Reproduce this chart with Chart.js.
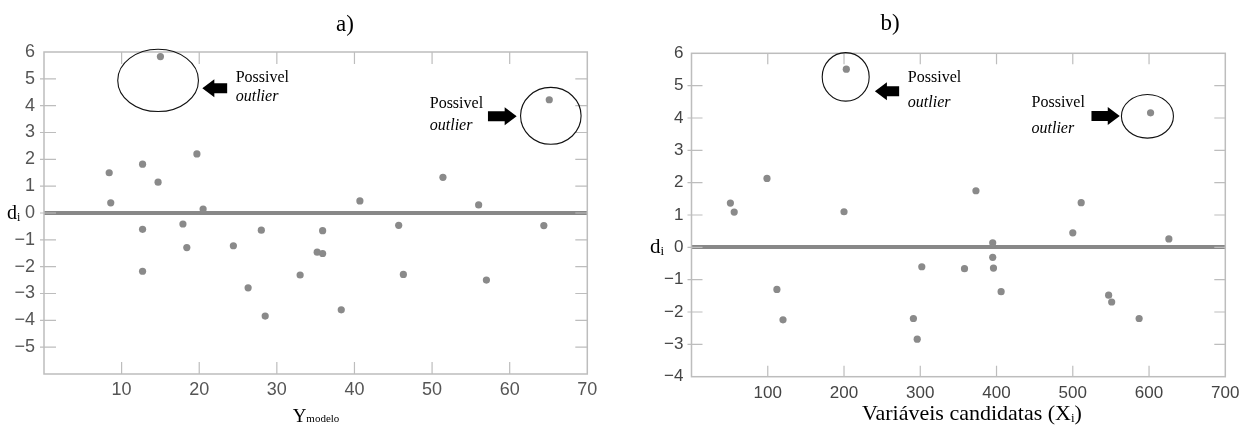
<!DOCTYPE html>
<html>
<head>
<meta charset="utf-8">
<script src="https://cdn.jsdelivr.net/npm/chart.js@4/dist/chart.umd.min.js"></script>
<style>
  body { margin: 0; background: #fff; width: 1248px; height: 426px; overflow: hidden; position: relative; }
  canvas { position: absolute; top: 0; }
</style>
</head>
<body>
<canvas id="graficoA" width="624" height="426" style="left:0"></canvas>
<canvas id="graficoB" width="624" height="426" style="left:624px"></canvas>
<script>
// a) residuos contra o Y do modelo
const yModeloA = [15.0, 8.4, 12.7, 14.7, 19.7, 8.6, 20.5, 40.7, 65.1, 51.4, 56.0,
  12.7, 17.9, 18.4, 12.7, 24.4, 28.0, 26.3, 28.5, 33.0, 35.2, 35.9, 35.9, 38.3,
  45.7, 46.3, 57.0, 64.4];
const residuoA = [5.83, 1.50, 1.82, 1.15, 2.20, 0.38, 0.15, 0.45, 4.22, 1.33, 0.30,
  -0.61, -0.41, -1.29, -2.17, -1.22, -0.64, -2.79, -3.84, -2.31, -1.46, -1.51, -0.66, -3.61,
  -0.46, -2.29, -2.50, -0.47];

// b) residuos contra as variaveis candidatas
const xCandB = [203, 51, 56, 99, 200, 112, 120, 291, 296, 302, 602, 373,
  511, 500, 626, 395, 395, 396, 358, 406, 547, 551, 587];
const residuoB = [5.51, 1.37, 1.09, 2.13, 1.10, -1.30, -2.24, -2.20, -2.84, -0.60, 4.16, 1.75,
  1.38, 0.45, 0.26, 0.14, -0.31, -0.64, -0.66, -1.37, -1.48, -1.69, -2.20];

// eixos: min, max, passo
const eixoXA = [0, 70, 10];
const eixoYA = [-6, 6, 1];
const eixoXB = [0, 700, 100];
const eixoYB = [-4, 6, 1];

const COR_PONTO = "#8a8a8a";
const COR_MOLDURA = "#bdbdbd";

const marcas = {
  id: "marcas",
  beforeDatasetsDraw(chart, args, opts) {
    const { ctx, chartArea: a, scales: { x, y } } = chart;
    ctx.save();
    ctx.strokeStyle = COR_MOLDURA;
    ctx.lineWidth = 1.5;
    ctx.strokeRect(a.left, a.top, a.right - a.left, a.bottom - a.top);
    ctx.lineWidth = 1.2;
    ctx.beginPath();
    x.ticks.forEach((t) => {
      if (t.value <= x.min || t.value >= x.max) return;
      const px = x.getPixelForValue(t.value);
      ctx.moveTo(px, a.bottom);
      ctx.lineTo(px, a.bottom - opts.tick);
      ctx.moveTo(px, a.top);
      ctx.lineTo(px, a.top + opts.tick);
    });
    y.ticks.forEach((t) => {
      if (t.value <= y.min || t.value >= y.max) return;
      const py = y.getPixelForValue(t.value);
      ctx.moveTo(a.left - 4, py);
      ctx.lineTo(a.left + opts.tick, py);
      ctx.moveTo(a.right, py);
      ctx.lineTo(a.right - opts.tick, py);
    });
    ctx.stroke();
    ctx.restore();
  },
  afterDraw(chart, args, opts) {
    const { ctx, scales: { x, y } } = chart;
    ctx.save();
    ctx.fillStyle = "#000";
    ctx.strokeStyle = "#111";
    ctx.textBaseline = "alphabetic";

    // titulo a) / b)
    ctx.font = "23px 'Liberation Serif'";
    ctx.textAlign = "center";
    ctx.fillText(opts.titulo.text, opts.titulo.x, opts.titulo.y);

    // d_i na altura do zero
    const y0 = y.getPixelForValue(0);
    ctx.textAlign = "left";
    ctx.font = opts.di.size + "px 'Liberation Serif'";
    ctx.fillText("d", opts.di.x, y0 + 6);
    const wd = ctx.measureText("d").width;
    ctx.font = Math.round(opts.di.size * 0.6) + "px 'Liberation Serif'";
    ctx.fillText("i", opts.di.x + wd, y0 + 8);

    // titulo do eixo x
    const tx = opts.tituloX;
    ctx.font = tx.size + "px 'Liberation Serif'";
    const w1 = ctx.measureText(tx.main).width;
    ctx.font = tx.subSize + "px 'Liberation Serif'";
    const w2 = ctx.measureText(tx.sub).width;
    ctx.font = tx.size + "px 'Liberation Serif'";
    const w3 = ctx.measureText(tx.end).width;
    let sx = tx.x - (w1 + w2 + w3) / 2;
    ctx.fillText(tx.main, sx, tx.y);
    ctx.font = tx.subSize + "px 'Liberation Serif'";
    ctx.fillText(tx.sub, sx + w1, tx.y + tx.subDrop);
    ctx.font = tx.size + "px 'Liberation Serif'";
    ctx.fillText(tx.end, sx + w1 + w2, tx.y);

    // elipses
    ctx.lineWidth = 1.1;
    opts.elipses.forEach((e) => {
      const cx = x.getPixelForValue(e.x);
      const cy = y.getPixelForValue(e.y);
      const rx = Math.abs(x.getPixelForValue(e.x + e.rx) - cx);
      const ry = Math.abs(y.getPixelForValue(e.y + e.ry) - cy);
      ctx.beginPath();
      ctx.ellipse(cx, cy, rx, ry, 0, 0, Math.PI * 2);
      ctx.stroke();
    });

    // setas
    opts.setas.forEach((s) => {
      const x0 = x.getPixelForValue(s.de);
      const x1 = x.getPixelForValue(s.para);
      const py = y.getPixelForValue(s.y);
      const dir = Math.sign(x1 - x0);
      const cab = 12 * dir;
      ctx.beginPath();
      ctx.moveTo(x0, py - 5);
      ctx.lineTo(x1 - cab, py - 5);
      ctx.lineTo(x1 - cab, py - 9);
      ctx.lineTo(x1, py);
      ctx.lineTo(x1 - cab, py + 9);
      ctx.lineTo(x1 - cab, py + 5);
      ctx.lineTo(x0, py + 5);
      ctx.closePath();
      ctx.fill();
    });

    // textos "Possivel outlier"
    opts.textos.forEach((t) => {
      const px = x.getPixelForValue(t.x);
      ctx.font = "16px 'Liberation Serif'";
      ctx.fillText("Possivel", px, y.getPixelForValue(t.y1));
      ctx.font = "italic 16px 'Liberation Serif'";
      ctx.fillText("outlier", px, y.getPixelForValue(t.y2));
    });
    ctx.restore();
  },
};

function menos(v) {
  return String(v).replace("-", "\u2212");
}

function montarGrafico(id, xs, ys, eixoX, eixoY, layout, notas) {
  const pontos = xs.map((v, i) => ({ x: v, y: ys[i] }));
  return new Chart(document.getElementById(id), {
    type: "scatter",
    data: {
      datasets: [
        {
          data: pontos,
          backgroundColor: COR_PONTO,
          borderWidth: 0,
          pointRadius: 3.6,
        },
      ],
    },
    plugins: [marcas],
    options: {
      responsive: false,
      animation: false,
      layout: { padding: { top: layout.top, right: layout.right, left: 0, bottom: 0 } },
      plugins: {
        legend: { display: false },
        tooltip: { enabled: false },
        marcas: notas,
      },
      scales: {
        x: {
          type: "linear",
          min: eixoX[0],
          max: eixoX[1],
          border: { display: false },
          grid: { display: false, drawTicks: false },
          ticks: {
            stepSize: eixoX[2],
            padding: layout.padX,
            color: layout.corTick,
            font: { family: layout.fonte, size: layout.tam },
            callback: (v) => (v === eixoX[0] ? "" : menos(v)),
          },
          afterFit: (s) => { s.height = layout.altX; },
        },
        y: {
          type: "linear",
          min: eixoY[0],
          max: eixoY[1],
          border: { display: false },
          grid: {
            drawTicks: false,
            color: (c) => (c.tick && c.tick.value === 0 ? "#888888" : "rgba(0,0,0,0)"),
            lineWidth: (c) => (c.tick && c.tick.value === 0 ? 4 : 0),
          },
          ticks: {
            stepSize: eixoY[2],
            padding: layout.padY,
            color: layout.corTick,
            font: { family: layout.fonte, size: layout.tam },
            callback: (v) => (v === -6 ? "" : menos(v)),
          },
          afterFit: (s) => { s.width = layout.largY; },
        },
      },
    },
  });
}

montarGrafico("graficoA", yModeloA, residuoA, eixoXA, eixoYA,
  { top: 52, right: 36.7, altX: 52, largY: 44, padX: 5, padY: 9, tam: 18, corTick: "#555", fonte: "'Liberation Sans', Arial, sans-serif" },
  {
    tick: 12,
    titulo: { text: "a)", x: 345, y: 31 },
    di: { x: 7, size: 20 },
    tituloX: { main: "Y", sub: "modelo", end: "", x: 316, y: 422, size: 19, subSize: 11, subDrop: 0 },
    elipses: [
      { x: 14.7, y: 4.94, rx: 5.2, ry: 1.16 },
      { x: 65.3, y: 3.62, rx: 3.9, ry: 1.06 },
    ],
    setas: [
      { de: 23.6, para: 20.4, y: 4.65 },
      { de: 57.2, para: 60.9, y: 3.61 },
    ],
    textos: [
      { x: 24.7, y1: 4.9, y2: 4.16 },
      { x: 49.7, y1: 3.92, y2: 3.1 },
    ],
  });

montarGrafico("graficoB", xCandB, residuoB, eixoXB, eixoYB,
  { top: 53.3, right: 22.7, altX: 49.3, largY: 67.5, padX: 6, padY: 8, tam: 17, corTick: "#444", fonte: "'Liberation Sans Narrow', 'Arial Narrow', 'Liberation Sans', sans-serif" },
  {
    tick: 11,
    titulo: { text: "b)", x: 266, y: 30 },
    di: { x: 26, size: 21 },
    tituloX: { main: "Variáveis candidatas (X", sub: "i", end: ")", x: 348, y: 420, size: 22, subSize: 13, subDrop: 2 },
    elipses: [
      { x: 202.2, y: 5.27, rx: 30.8, ry: 0.75 },
      { x: 597.9, y: 4.05, rx: 34.1, ry: 0.674 },
    ],
    setas: [
      { de: 272.3, para: 240.5, y: 4.83 },
      { de: 524.5, para: 561.6, y: 4.06 },
    ],
    textos: [
      { x: 283.7, y1: 5.12, y2: 4.35 },
      { x: 445.9, y1: 4.35, y2: 3.54 },
    ],
  });
</script>
</body>
</html>
